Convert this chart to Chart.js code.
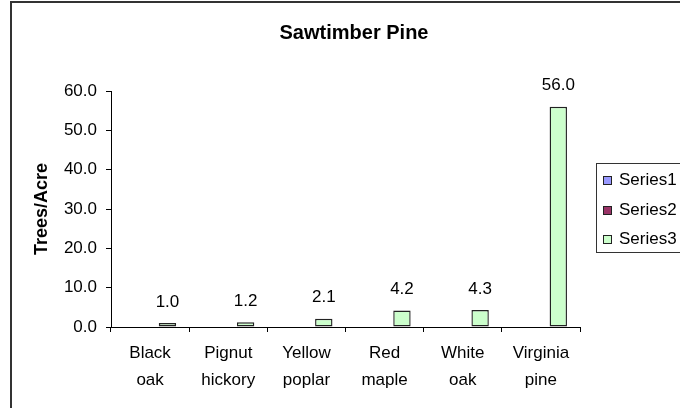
<!DOCTYPE html>
<html>
<head>
<meta charset="utf-8">
<script src="https://cdn.jsdelivr.net/npm/chart.js@4/dist/chart.umd.min.js"></script>
<style>
  html, body { margin: 0; padding: 0; background: #fff; }
  #wrap { position: relative; width: 680px; height: 408px; }
</style>
</head>
<body>
<div id="wrap"><canvas id="c" width="680" height="408"></canvas></div>
<script>
// Tree species along the category axis (two-line labels)
const categories = [
  ['Black', 'oak'],
  ['Pignut', 'hickory'],
  ['Yellow', 'poplar'],
  ['Red', 'maple'],
  ['White', 'oak'],
  ['Virginia', 'pine']
];
// Trees per acre for each series
const series1 = [null, null, null, null, null, null];
const series2 = [null, null, null, null, null, null];
const series3 = [1.0, 1.2, 2.1, 4.2, 4.3, 56.0];
const seriesNames = ['Series1', 'Series2', 'Series3'];
const seriesColors = ['#9999FF', '#993366', '#CCFFCC'];
const yTicks = [0, 10, 20, 30, 40, 50, 60];

const FONT = "'Liberation Sans', Arial, Helvetica, sans-serif";

// Chart-area frame, title, axis title, boxed legend and value labels
const decorations = {
  id: 'decorations',
  beforeDraw(chart) {
    const ctx = chart.ctx;
    ctx.save();
    ctx.fillStyle = '#ffffff';
    ctx.fillRect(0, 0, chart.width, chart.height);
    ctx.strokeStyle = '#333333';
    ctx.lineWidth = 2;
    ctx.strokeRect(11, 2, 900, 600);
    ctx.restore();
  },
  afterDatasetsDraw(chart) {
    const ctx = chart.ctx;
    ctx.save();
    ctx.fillStyle = '#000';
    ctx.font = '17px ' + FONT;
    ctx.textAlign = 'center';
    ctx.textBaseline = 'middle';
    const meta = chart.getDatasetMeta(2);
    meta.data.forEach((bar, i) => {
      const v = series3[i];
      if (v == null) return;
      ctx.fillText(v.toFixed(1), bar.x, bar.y - 21);
    });
    ctx.restore();
  },
  afterDraw(chart) {
    const ctx = chart.ctx;
    const area = chart.chartArea;
    ctx.save();
    ctx.fillStyle = '#000';
    // title
    ctx.font = 'bold 20px ' + FONT;
    ctx.textAlign = 'center';
    ctx.textBaseline = 'middle';
    ctx.fillText('Sawtimber Pine', 354, 33);
    // value axis title
    ctx.save();
    ctx.translate(42, (area.top + area.bottom) / 2);
    ctx.rotate(-Math.PI / 2);
    ctx.font = 'bold 18px ' + FONT;
    ctx.fillText('Trees/Acre', 0, 0);
    ctx.restore();
    // legend
    ctx.strokeStyle = '#333333';
    ctx.lineWidth = 1;
    ctx.strokeRect(596.5, 163.5, 200, 89);
    ctx.font = '17px ' + FONT;
    ctx.textAlign = 'left';
    const rows = [180, 210, 239];
    seriesNames.forEach((name, i) => {
      ctx.fillStyle = seriesColors[i];
      ctx.fillRect(603, rows[i] - 4, 9, 9);
      ctx.strokeStyle = '#222';
      ctx.strokeRect(603.5, rows[i] - 3.5, 8, 8);
      ctx.fillStyle = '#000';
      ctx.fillText(name, 619, rows[i]);
    });
    ctx.restore();
  }
};

const datasets = [series1, series2, series3].map((d, i) => ({
  label: seriesNames[i],
  data: d,
  backgroundColor: seriesColors[i],
  borderColor: '#222222',
  borderWidth: 1.4,
  borderSkipped: false,
  barPercentage: 1.0,
  categoryPercentage: 3 / 4.5
}));

new Chart(document.getElementById('c'), {
  type: 'bar',
  data: { labels: categories, datasets },
  plugins: [decorations],
  options: {
    responsive: false,
    animation: false,
    layout: { padding: { top: 91, right: 100, left: 0, bottom: 0 } },
    plugins: {
      legend: { display: false },
      title: { display: false },
      tooltip: { enabled: false }
    },
    scales: {
      x: {
        afterFit(scale) { scale.height = 81; },
        border: { display: true, color: '#000', width: 1 },
        grid: { display: true, drawOnChartArea: false, offset: true, tickLength: 5, color: '#000' },
        ticks: {
          color: '#000',
          padding: 8,
          maxRotation: 0,
          autoSkip: false,
          font: { family: FONT, size: 17, lineHeight: 1.6 }
        }
      },
      y: {
        min: 0,
        max: 60,
        afterFit(scale) { scale.width = 111; },
        afterBuildTicks(scale) { scale.ticks = yTicks.map(v => ({ value: v })); },
        border: { display: true, color: '#000', width: 1 },
        grid: { display: true, drawOnChartArea: false, tickLength: 5, color: '#000' },
        ticks: {
          color: '#000',
          padding: 9,
          font: { family: FONT, size: 17 },
          callback: v => Number(v).toFixed(1)
        }
      }
    }
  }
});
</script>
</body>
</html>
